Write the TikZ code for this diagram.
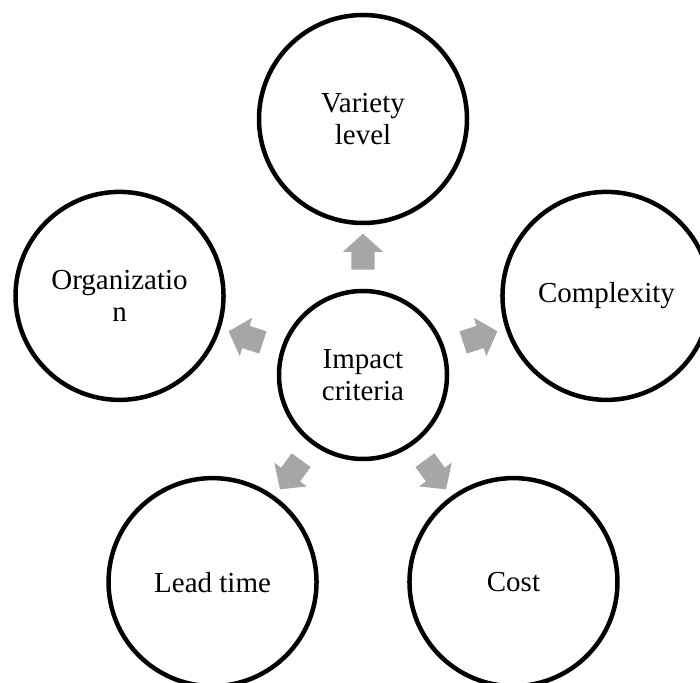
\documentclass[tikz,border=0pt]{standalone}
\usepackage{fontspec}
\setmainfont{Liberation Serif}
\usetikzlibrary{shapes.arrows,calc,positioning}
\definecolor{arrowgray}{HTML}{A6A6A6}

\begin{document}
\begin{tikzpicture}[x=1pt,y=1pt,
		crit/.style={circle,draw=black,line width=4.5pt,minimum size=208pt,inner sep=0pt,align=center,font=\fontsize{29}{32}\selectfont},
		hub/.style={crit,minimum size=168pt},
		blockarrow/.style={single arrow,fill=arrowgray,draw=none,inner xsep=0pt,inner ysep=11.5pt,minimum height=36pt,single arrow head extend=8.5pt,single arrow tip angle=96}]
		\clip (0,0) rectangle (700,682);
		% centre
		\node[hub] (impact) at (363,307) {Impact\\criteria};
		% criteria round it
		\node[crit] (variety) at ($(impact)+(90:256)$) {Variety\\level};
		\node[crit] (complexity) at ($(impact)+(18:256)$) {Complexity};
		\node[crit] (cost) at ($(impact)+(-54:256)$) {Cost};
		\node[crit] (lead) at ($(impact)+(234:256)$) {Lead time};
		\node[crit] (organization) at ($(impact)+(162:256)$) {Organizatio\\n};
		% arrows
		\foreach \n/\a in {variety/90,complexity/18,cost/-54,lead/234,organization/162}{
			\pgfmathtruncatemacro{\b}{\a+180}
			\node[blockarrow,rotate=\a] (arr-\n) at ($(impact.\a)!0.5!(\n.\b)$) {};
		}
	\end{tikzpicture}
\end{document}
